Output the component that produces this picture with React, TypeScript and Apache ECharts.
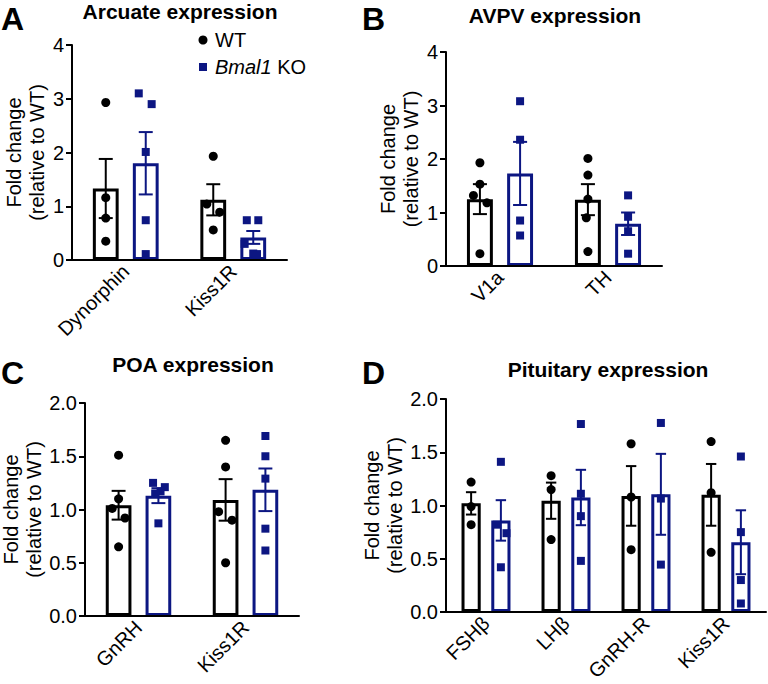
import React, { useEffect, useRef } from "react";
import * as echarts from "echarts";

const FONT = "'Liberation Sans', Arial, Helvetica, sans-serif";
const NAVY = "#0c1682";
const BLACK = "#000000";

// ---------- Panel A: Arcuate ----------
const A_CATS = ["Dynorphin", "Kiss1R"];
const A_WT_MEAN = [1.33, 1.12];
const A_WT_SEM = [0.55, 0.29];
const A_KO_MEAN = [1.8, 0.42];
const A_KO_SEM = [0.58, 0.12];
const A_WT_PTS = [[2.93, 1.16, 0.78, 0.35], [1.93, 1.04, 0.89, 0.56]];
const A_WT_JIT = [[0, 0, 0, 0], [0, -0.06, 0.06, 0]];
const A_KO_PTS = [[3.1, 2.9, 2.01, 0.74, 0.11], [0.74, 0.74, 0.3, 0.12, 0.11]];
const A_KO_JIT = [[-0.065, 0.055, 0, 0, 0], [-0.06, 0.047, -0.08, 0, 0.035]];

// ---------- Panel B: AVPV ----------
const B_CATS = ["V1a", "TH"];
const B_WT_MEAN = [1.25, 1.24];
const B_WT_SEM = [0.28, 0.29];
const B_KO_MEAN = [1.73, 0.79];
const B_KO_SEM = [0.59, 0.21];
const B_WT_PTS = [[1.93, 1.53, 1.32, 1.18, 0.23], [2.01, 1.7, 1.25, 0.9, 0.27]];
const B_WT_JIT = [[0, 0, -0.06, 0.065, 0], [0, 0, 0, -0.015, 0]];
const B_KO_PTS = [[3.08, 2.36, 0.85, 0.57], [1.32, 0.92, 0.65, 0.23]];
const B_KO_JIT = [[0, 0, 0, 0], [0, 0, 0, 0]];

// ---------- Panel C: POA ----------
const C_CATS = ["GnRH", "Kiss1R"];
const C_WT_MEAN = [1.04, 1.09];
const C_WT_SEM = [0.135, 0.195];
const C_KO_MEAN = [1.13, 1.185];
const C_KO_SEM = [0.07, 0.2];
const C_WT_PTS = [[1.51, 1.1, 1.01, 0.92, 0.65], [1.65, 1.4, 0.98, 0.9, 0.5]];
const C_WT_JIT = [[0, 0, -0.06, 0.06, 0], [0, 0, -0.065, 0.06, 0]];
const C_KO_PTS = [[1.25, 1.21, 1.17, 1.15, 0.87], [1.69, 1.5, 1.29, 0.82, 0.615]];
const C_KO_JIT = [[-0.05, 0.06, 0.02, -0.03, 0], [0, 0, 0, 0, 0]];

// ---------- Panel D: Pituitary ----------
const D_CATS = ["FSHβ", "LHβ", "GnRH-R", "Kiss1R"];
const D_WT_MEAN = [1.02, 1.045, 1.09, 1.1];
const D_WT_SEM = [0.105, 0.17, 0.28, 0.29];
const D_KO_MEAN = [0.86, 1.075, 1.105, 0.655];
const D_KO_SEM = [0.19, 0.26, 0.38, 0.3];
const D_WT_PTS = [[1.22, 0.99, 0.82], [1.28, 1.15, 0.68], [1.58, 1.08, 0.585], [1.6, 1.12, 0.56]];
const D_WT_JIT = [[0, 0, 0], [0, 0, 0], [0, 0, 0], [0, 0, 0]];
const D_KO_PTS = [[1.41, 0.82, 0.74, 0.42], [1.765, 1.11, 0.9, 0.48], [1.775, 1.065, 0.445], [1.46, 0.75, 0.3, 0.08]];
const D_KO_JIT = [[0, -0.05, 0.07, 0], [0, 0, 0, 0], [0, 0, 0], [0, 0, 0, 0]];

const Y_NAME = "Fold change\n(relative to WT)";

const BAR_W = 0.24;
const BAR_GAP = 0.55;
const OFF = (BAR_W + BAR_W * BAR_GAP) / 2;

type Panel = {
  grid: { left: number; top: number; width: number; height: number };
  cats: string[];
  yMax: number;
  yInt: number;
  dec: number;
  nameGap: number;
  wtMean: number[]; wtSem: number[]; koMean: number[]; koSem: number[];
  wtPts: number[][]; wtJit: number[][]; koPts: number[][]; koJit: number[][];
};

const PANELS: Panel[] = [
  { grid: { left: 72, top: 45, width: 215, height: 215 }, cats: A_CATS, yMax: 4, yInt: 1, dec: 0, nameGap: 24,
    wtMean: A_WT_MEAN, wtSem: A_WT_SEM, koMean: A_KO_MEAN, koSem: A_KO_SEM,
    wtPts: A_WT_PTS, wtJit: A_WT_JIT, koPts: A_KO_PTS, koJit: A_KO_JIT },
  { grid: { left: 446, top: 52, width: 216, height: 214 }, cats: B_CATS, yMax: 4, yInt: 1, dec: 0, nameGap: 24,
    wtMean: B_WT_MEAN, wtSem: B_WT_SEM, koMean: B_KO_MEAN, koSem: B_KO_SEM,
    wtPts: B_WT_PTS, wtJit: B_WT_JIT, koPts: B_KO_PTS, koJit: B_KO_JIT },
  { grid: { left: 85, top: 403, width: 214, height: 213 }, cats: C_CATS, yMax: 2, yInt: 0.5, dec: 1, nameGap: 34,
    wtMean: C_WT_MEAN, wtSem: C_WT_SEM, koMean: C_KO_MEAN, koSem: C_KO_SEM,
    wtPts: C_WT_PTS, wtJit: C_WT_JIT, koPts: C_KO_PTS, koJit: C_KO_JIT },
  { grid: { left: 446, top: 399, width: 320, height: 213 }, cats: D_CATS, yMax: 2, yInt: 0.5, dec: 1, nameGap: 38,
    wtMean: D_WT_MEAN, wtSem: D_WT_SEM, koMean: D_KO_MEAN, koSem: D_KO_SEM,
    wtPts: D_WT_PTS, wtJit: D_WT_JIT, koPts: D_KO_PTS, koJit: D_KO_JIT },
];

function errRender(color: string) {
  return (params: any, api: any) => {
    const x = api.value(0);
    const m = api.value(1);
    const s = api.value(2);
    const top = api.coord([x, m + s]);
    const bot = api.coord([x, m - s]);
    const half = (api.size([1, 0])[0] * 0.13) / 2;
    const style = { stroke: color, lineWidth: 2 };
    return {
      type: "group",
      children: [
        { type: "line", shape: { x1: top[0], y1: top[1], x2: bot[0], y2: bot[1] }, style },
        { type: "line", shape: { x1: top[0] - half, y1: top[1], x2: top[0] + half, y2: top[1] }, style },
        { type: "line", shape: { x1: bot[0] - half, y1: bot[1], x2: bot[0] + half, y2: bot[1] }, style },
      ],
    };
  };
}

function buildOption() {
  const grid: any[] = [];
  const xAxis: any[] = [];
  const yAxis: any[] = [];
  const series: any[] = [];
  const axisLines: any[] = [];

  PANELS.forEach((p, pi) => {
    grid.push({ ...p.grid, containLabel: false, outerBoundsMode: "none" });
    // left spine at the grid's left edge (layout element)
    axisLines.push({
      type: "rect", z: 100,
      shape: { x: p.grid.left - 1, y: p.grid.top, width: 2, height: p.grid.height },
      style: { fill: BLACK },
    });
    xAxis.push({
      type: "category", gridIndex: pi, data: p.cats, position: "bottom", z: 10,
      axisLine: { lineStyle: { color: BLACK, width: 2 } },
      axisTick: { alignWithLabel: true, length: 6, lineStyle: { color: BLACK, width: 2 } },
      axisLabel: { rotate: 45, interval: 0, fontSize: 20, color: BLACK, fontFamily: FONT, margin: 8 },
      splitLine: { show: false },
    });
    // hidden value axis: category i occupies [i, i+1], centre at i + 0.5
    xAxis.push({
      type: "value", gridIndex: pi, min: 0, max: p.cats.length, show: false, position: "bottom",
      splitLine: { show: false },
    });
    yAxis.push({
      type: "value", gridIndex: pi, min: 0, max: p.yMax, interval: p.yInt, position: "left", z: 10,
      name: Y_NAME, nameLocation: "middle", nameRotate: 90, nameGap: p.nameGap,
      nameTextStyle: { fontSize: 20, color: BLACK, fontFamily: FONT, lineHeight: 23, align: "center" },
      axisLine: { show: true, lineStyle: { color: BLACK, width: 2 } },
      axisTick: { show: true, length: 6, lineStyle: { color: BLACK, width: 2 } },
      axisLabel: { fontSize: 20, color: BLACK, fontFamily: FONT, margin: 8, formatter: (v: number) => v.toFixed(p.dec) },
      splitLine: { show: false },
    });
    const cx = pi * 2;
    const vx = pi * 2 + 1;
    const barCommon = {
      type: "bar", xAxisIndex: cx, yAxisIndex: pi, barWidth: `${BAR_W * 100}%`, barGap: `${BAR_GAP * 100}%`, z: 2,
    };
    series.push({ ...barCommon, name: "WT", data: p.wtMean, itemStyle: { color: "#ffffff", borderColor: BLACK, borderWidth: 3 } });
    series.push({ ...barCommon, name: "Bmal1 KO", data: p.koMean, itemStyle: { color: "#ffffff", borderColor: NAVY, borderWidth: 3 } });
    series.push({
      type: "custom", name: "WT", xAxisIndex: vx, yAxisIndex: pi, z: 3, clip: false,
      renderItem: errRender(BLACK),
      data: p.wtMean.map((m, i) => [i + 0.5 - OFF, m, p.wtSem[i]]),
    });
    series.push({
      type: "custom", name: "Bmal1 KO", xAxisIndex: vx, yAxisIndex: pi, z: 3, clip: false,
      renderItem: errRender(NAVY),
      data: p.koMean.map((m, i) => [i + 0.5 + OFF, m, p.koSem[i]]),
    });
    const wtData: number[][] = [];
    p.wtPts.forEach((arr, i) => arr.forEach((v, j) => wtData.push([i + 0.5 - OFF + p.wtJit[i][j], v])));
    const koData: number[][] = [];
    p.koPts.forEach((arr, i) => arr.forEach((v, j) => koData.push([i + 0.5 + OFF + p.koJit[i][j], v])));
    series.push({
      type: "scatter", name: "WT", xAxisIndex: vx, yAxisIndex: pi, z: 4, symbol: "circle", symbolSize: 9,
      itemStyle: { color: BLACK, opacity: 1 }, data: wtData,
    });
    series.push({
      type: "scatter", name: "Bmal1 KO", xAxisIndex: vx, yAxisIndex: pi, z: 4, symbol: "rect", symbolSize: 8,
      itemStyle: { color: NAVY, opacity: 1 }, data: koData,
    });
  });

  const txt = (text: string, x: number, y: number, size: number) => ({
    type: "text", x, y,
    style: { text, fontSize: size, fontWeight: "bold", fontFamily: FONT, fill: BLACK, textAlign: "center", textVerticalAlign: "middle" },
  });
  const letter = (text: string, x: number, y: number) => ({
    type: "text", x, y,
    style: { text, fontSize: 32, fontWeight: "bold", fontFamily: FONT, fill: BLACK, textAlign: "left", textVerticalAlign: "top" },
  });

  const graphic: any[] = [
    ...axisLines,
    letter("A", 1, 3), letter("B", 362, 3), letter("C", 1, 357), letter("D", 362, 357),
    txt("Arcuate expression", 180, 11, 21), txt("AVPV expression", 555, 15, 21),
    txt("POA expression", 193, 364, 21), txt("Pituitary expression", 608, 369, 21),
    { type: "circle", shape: { cx: 203, cy: 40, r: 4.5 }, style: { fill: BLACK } },
    { type: "text", x: 215, y: 40, style: { text: "WT", fontSize: 20, fontFamily: FONT, fill: BLACK, textAlign: "left", textVerticalAlign: "middle" } },
    { type: "rect", shape: { x: 199, y: 63, width: 8, height: 8 }, style: { fill: NAVY } },
    {
      type: "text", x: 215, y: 67,
      style: {
        text: "{i|Bmal1} KO", fontSize: 20, fontFamily: FONT, fill: BLACK, textAlign: "left", textVerticalAlign: "middle",
        rich: { i: { fontStyle: "italic", fontSize: 20, fontFamily: FONT, fill: BLACK } },
      },
    },
  ];

  return { animation: false, backgroundColor: "#ffffff", grid, xAxis, yAxis, series, graphic, textStyle: { fontFamily: FONT } };
}

export default function App() {
  const ref = useRef<HTMLDivElement>(null);
  useEffect(() => {
    if (!ref.current) return;
    const chart = echarts.init(ref.current, undefined, { renderer: "svg" });
    chart.setOption(buildOption() as any);
    return () => chart.dispose();
  }, []);
  return <div ref={ref} style={{ position: "absolute", left: 0, top: 0, width: 768, height: 684 }} />;
}
